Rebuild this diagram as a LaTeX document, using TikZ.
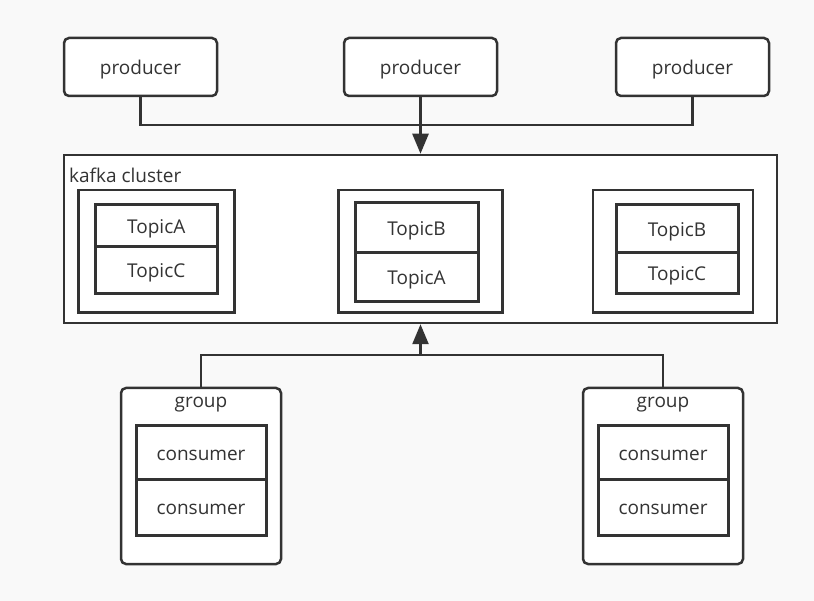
\documentclass[tikz,border=0pt]{standalone}
\usepackage{fontspec}
\setmainfont{Open Sans}
\usetikzlibrary{arrows.meta}
\definecolor{bgc}{HTML}{F9F9F9}
\definecolor{ink}{HTML}{333333}
\newcommand{\lowtx}[1]{\raisebox{-2.5pt}[\height][\depth]{#1}}
\begin{document}
\begin{tikzpicture}[x=1pt,y=-1pt,
  font=\fontsize{19}{22}\selectfont,
  box/.style={draw=ink,fill=white,line width=2.5pt,rectangle,inner sep=0pt,
    text=ink,anchor=center},
  rbox/.style={box,rounded corners=5pt},
  cell/.style={box,line width=3pt},
  conn/.style={draw=ink,line width=2.5pt},
  arr/.style={conn,-{Triangle[length=20pt,width=16pt]}}
]
\fill[bgc] (0,0) rectangle (814,601);
\useasboundingbox (0,0) rectangle (814,601);

% producers
\node[rbox,minimum width=153pt,minimum height=58pt] (p1) at (140.5,67) {\lowtx{producer}};
\node[rbox,minimum width=153pt,minimum height=58pt] (p2) at (420.5,67) {\lowtx{producer}};
\node[rbox,minimum width=153pt,minimum height=58pt] (p3) at (692.5,67) {\lowtx{producer}};

% cluster
\node[box,minimum width=713pt,minimum height=168pt] (cl) at (420.5,239) {};
\node[text=ink,anchor=west,inner sep=0pt] (cllab) at (69,175) {kafka cluster};

% brokers
\node[box,minimum width=156pt,minimum height=122.5pt] (b1) at (156.5,251.25) {};
\node[cell,minimum width=122.5pt,minimum height=42pt] (t1a) at (156.25,226) {\lowtx{TopicA}};
\node[cell,minimum width=122.5pt,minimum height=47pt] (t1c) at (156.25,270.5) {\lowtx{TopicC}};

\node[box,minimum width=164pt,minimum height=122.5pt] (b2) at (420.5,251.25) {};
\node[cell,minimum width=123pt,minimum height=50pt] (t2b) at (416.5,228) {\lowtx{TopicB}};
\node[cell,minimum width=123pt,minimum height=48.5pt] (t2a) at (416.5,277.25) {\lowtx{TopicA}};

\node[box,minimum width=160pt,minimum height=122.5pt] (b3) at (673,251.25) {};
\node[cell,minimum width=122pt,minimum height=48pt] (t3b) at (677,229) {\lowtx{TopicB}};
\node[cell,minimum width=122pt,minimum height=41pt] (t3c) at (677,273.5) {\lowtx{TopicC}};

% groups
\node[rbox,minimum width=160pt,minimum height=176pt] (g1) at (201,476) {};
\node[text=ink,inner sep=0pt] (g1lab) at (201,404.5) {group};
\node[cell,minimum width=130pt,minimum height=54pt] (c1a) at (201,452.5) {\lowtx{consumer}};
\node[cell,minimum width=130pt,minimum height=55.5pt] (c1b) at (201,507.25) {\lowtx{consumer}};

\node[rbox,minimum width=160pt,minimum height=176pt] (g2) at (663,476) {};
\node[text=ink,inner sep=0pt] (g2lab) at (663,404.5) {group};
\node[cell,minimum width=130pt,minimum height=54pt] (c2a) at (663,452.5) {\lowtx{consumer}};
\node[cell,minimum width=130pt,minimum height=55.5pt] (c2b) at (663,507.25) {\lowtx{consumer}};

% connectors
\coordinate (pj) at (420.5,125);
\coordinate (gj) at (420.5,355);
\draw[conn] (p1.south) |- (pj) -| (p3.south);
\draw[arr] (p2.south) -- (cl.north);
\draw[conn] (g1.north) |- (gj) -| (g2.north);
\draw[arr] (gj) -- (cl.south);
\end{tikzpicture}
\end{document}
